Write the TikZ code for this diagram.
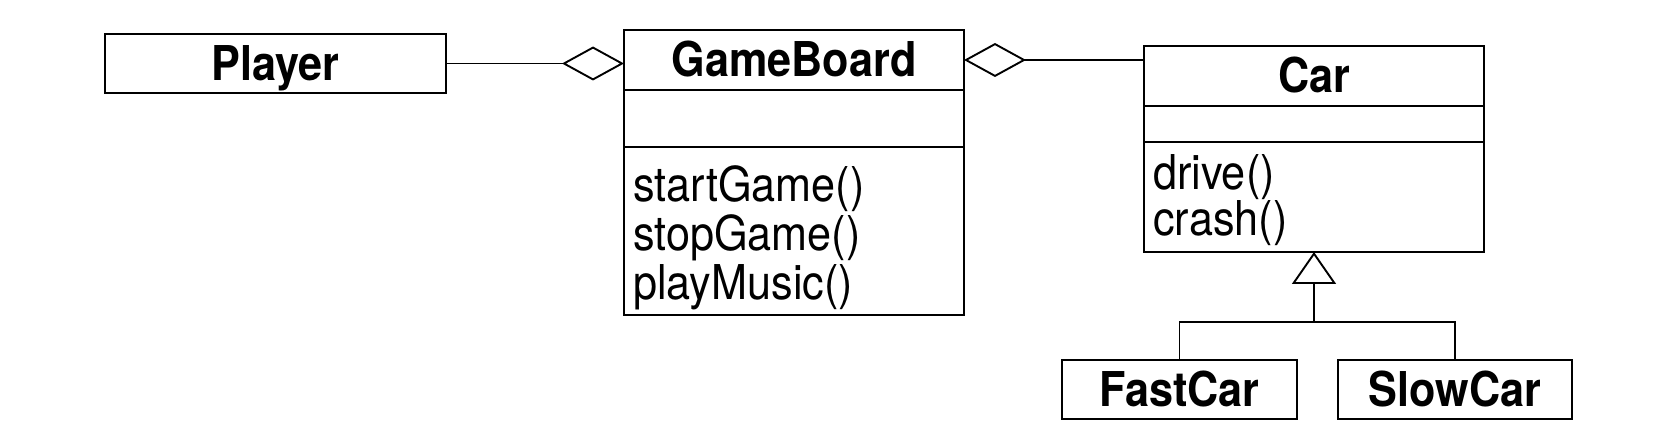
\documentclass[tikz,border=0pt]{standalone}
\usepackage{fontspec}
\setmainfont{TeX Gyre Heros}
\newfontfamily\umlfont[FakeStretch=0.9]{TeX Gyre Heros}
\usetikzlibrary{positioning,arrows.meta}

\tikzset{
  umlbox/.style={draw, line width=1.9pt, rectangle, inner sep=0pt, outer sep=0pt, minimum width=340pt},
  classname/.style={umlbox, font=\umlfont\fontsize{48}{48}\selectfont\bfseries, text height=34pt, text depth=0pt, minimum height=60pt},
  optext/.style={font=\umlfont\fontsize{48}{#1}\selectfont, align=left, inner xsep=9pt, anchor=north west},
  aggr/.style={line width=1.9pt, -{Diamond[open, length=62pt, width=34pt]}},
  inherit/.style={line width=1.9pt, -{Triangle[open, length=32pt, width=44pt]}},
}

\begin{document}
\begin{tikzpicture}[x=1pt, y=-1pt]
\useasboundingbox (0,0) rectangle (1665,438);

\node[classname, minimum width=341pt, minimum height=59pt] (player) at (275.5,63.5) {Player};

\node[classname] (gbname) at (794,60) {GameBoard};
\node[umlbox, minimum height=57pt, below=0pt of gbname] (gbattr) {};
\node[umlbox, minimum height=168pt, below=0pt of gbattr] (gbops) {};
\node[optext=49pt, inner ysep=18pt] (gbmethods) at (gbops.north west) {startGame()\\stopGame()\\playMusic()};

\node[classname] (carname) at (1314,76) {Car};
\node[umlbox, minimum height=36pt, below=0pt of carname] (carattr) {};
\node[umlbox, minimum height=110pt, below=0pt of carattr] (carops) {};
\node[optext=45pt, inner ysep=12pt] (carmethods) at (carops.north west) {drive()\\crash()};

\node[classname, minimum width=235pt, minimum height=59pt] (fastcar) at (1179.5,389.5) {FastCar};
\node[classname, minimum width=234pt, minimum height=59pt] (slowcar) at (1455,389.5) {SlowCar};

\draw[aggr] (player.east) -- (player.east -| gbname.west);
\draw[aggr] (gbname.east -| carname.west) -- (gbname.east);

\coordinate (split) at (1314,322);
\draw[inherit] (split) -- (carops.south);
\draw[line width=1.9pt] (fastcar.north) |- (split) -| (slowcar.north);
\end{tikzpicture}
\end{document}
